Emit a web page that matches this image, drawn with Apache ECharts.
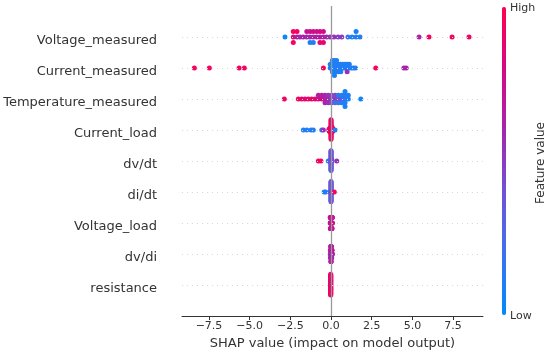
<!DOCTYPE html>
<html>
<head>
<meta charset="utf-8">
<script src="https://cdn.jsdelivr.net/npm/echarts@6/dist/echarts.min.js"></script>
<style>html,body{margin:0;padding:0;background:#fff}#chart{width:550px;height:355px}</style>
</head>
<body>
<div id="chart"></div>
<script>
// Features, top to bottom
const features = ['Voltage_measured','Current_measured','Temperature_measured','Current_load','dv/dt','di/dt','Voltage_load','dv/di','resistance'];
const xTicks = [-7.5, -5, -2.5, 0, 2.5, 5, 7.5];

// SHAP values and normalised feature values (0 = low, 1 = high) per feature
const voltage_measured_shap = [-2.83,-2.32,-2.32,-2.32,-2.09,-2.09,-1.91,-1.72,-1.49,-1.49,-1.29,-1.29,-1.29,-1.09,-1.09,-1.09,-0.88,-0.88,-0.68,-0.68,-0.68,-0.47,-0.47,-0.47,-0.26,-0.06,0.18,0.43,0.66,1.04,1.29,1.54,1.54,1.78,5.41,6.02,7.44,8.48];
const voltage_measured_value = [0.05,0.85,0.95,0.95,0.65,0.92,0.6,0.62,0.6,0.75,0.6,0.75,0.1,0.62,0.78,0.12,0.65,0.75,0.7,0.8,0.85,0.65,0.78,0.9,0.6,0.55,0.55,0.5,0.5,0.15,0.1,0.1,0.08,0.12,0.6,0.95,0.95,0.92];

const current_measured_shap = [-8.40,-7.48,-5.65,-5.33,-0.47,-0.05,-0.05,0.08,0.08,0.08,0.08,0.21,0.21,0.21,0.21,0.21,0.34,0.34,0.34,0.34,0.47,0.47,0.47,0.60,0.60,0.60,0.73,0.73,0.86,0.86,0.99,0.99,0.99,1.12,1.12,1.25,1.38,1.50,2.75,4.48,4.62];
const current_measured_value = [0.95,0.95,0.95,0.92,0.95,0.08,0.12,0.1,0.05,0.15,0.1,0.1,0.08,0.12,0.1,0.06,0.1,0.12,0.08,0.1,0.1,0.1,0.15,0.12,0.08,0.1,0.1,0.1,0.1,0.12,0.1,0.08,0.55,0.1,0.12,0.1,0.12,0.1,0.95,0.6,0.62];

const temperature_measured_shap = [-2.87,-2.01,-1.80,-1.60,-1.40,-1.19,-0.98,-0.78,-0.78,-0.57,-0.57,-0.37,-0.37,-0.37,-0.17,-0.17,-0.17,0.04,0.04,0.04,0.25,0.25,0.25,0.45,0.45,0.45,0.66,0.66,0.66,0.86,0.86,0.86,0.86,0.86,1.06,1.06,1.83];
const temperature_measured_value = [0.95,0.95,0.92,0.85,0.9,0.9,0.85,0.8,0.7,0.8,0.65,0.65,0.6,0.6,0.6,0.55,0.55,0.5,0.5,0.45,0.5,0.45,0.2,0.45,0.15,0.2,0.4,0.1,0.1,0.1,0.15,0.1,0.08,0.1,0.08,0.1,0.05];

const current_load_shap = [-1.70,-1.49,-1.23,-1.09,-0.57,-0.47,-0.12,-0.12,-0.12,-0.06,-0.06,-0.06,-0.06,-0.06,0,0,0,0,0,0,0,0,0,0,0,0,0,0,0,0,0,0,0,0,0.06,0.06,0.06,0.06,0.06,0.06,0.12,0.12,0.12,0.25];
const current_load_value = [0.08,0.1,0.12,0.1,0.15,0.55,0.9,0.92,0.88,0.92,0.9,0.95,0.9,0.93,0.95,0.93,0.95,0.9,0.95,0.92,0.95,0.9,0.95,0.93,0.95,0.9,0.95,0.92,0.95,0.93,0.95,0.9,0.95,0.92,0.92,0.9,0.95,0.9,0.88,0.93,0.9,0.95,0.9,0.1];

const dvdt_shap = [-0.78,-0.62,-0.17,-0.04,-0.04,-0.04,0,0,0,0,0,0,0,0,0,0,0,0,0,0,0,0,0,0,0,0,0,0,0,0,0,0,0.04,0.04,0.04,0.04,0.35];
const dvdt_value = [0.95,0.95,0.1,0.35,0.4,0.3,0.38,0.35,0.42,0.3,0.4,0.36,0.45,0.33,0.38,0.4,0.35,0.3,0.42,0.38,0.35,0.4,0.32,0.45,0.38,0.35,0.4,0.33,0.38,0.42,0.35,0.4,0.35,0.4,0.3,0.45,0.55];

const didt_shap = [-0.42,-0.33,-0.04,-0.04,0,0,0,0,0,0,0,0,0,0,0,0,0,0,0,0,0,0,0,0,0,0,0,0,0,0,0,0,0.04,0.04,0.04,0.2];
const didt_value = [0.1,0.08,0.35,0.4,0.38,0.35,0.42,0.3,0.4,0.36,0.45,0.33,0.38,0.4,0.35,0.3,0.42,0.38,0.35,0.4,0.32,0.45,0.38,0.35,0.4,0.33,0.38,0.42,0.35,0.4,0.38,0.36,0.4,0.35,0.45,0.95];

const voltage_load_shap = [-0.05,-0.05,-0.04,-0.04,-0.04,-0.03,-0.03,-0.03,-0.02,-0.02,-0.02,-0.01,-0.01,-0.01,0,0,0,0.01,0.01,0.01,0.02,0.02,0.02,0.03,0.03,0.03,0.04,0.04,0.04,0.05,0.05,0.05,0.06,0.06,0.06,0.07,0.07,0.08,0.08];
const voltage_load_value = [0.75,0.7,0.78,0.72,0.75,0.7,0.8,0.75,0.72,0.78,0.7,0.75,0.8,0.72,0.7,0.78,0.75,0.72,0.75,0.8,0.7,0.75,0.78,0.72,0.8,0.7,0.75,0.72,0.78,0.7,0.75,0.8,0.72,0.78,0.7,0.75,0.72,0.78,0.7];

const dvdi_shap = [-0.04,-0.04,-0.03,-0.03,-0.03,-0.02,-0.02,-0.02,-0.02,-0.01,-0.01,-0.01,-0.01,-0.01,0,0,0,0,0,0.01,0.01,0.01,0.01,0.01,0.02,0.02,0.02,0.02,0.03,0.03,0.03,0.04,0.04,0.04,0.05,0.05,0.06,0.06,0.07,0.08];
const dvdi_value = [0.6,0.7,0.55,0.75,0.6,0.5,0.7,0.6,0.72,0.55,0.75,0.6,0.5,0.72,0.6,0.55,0.7,0.75,0.6,0.55,0.65,0.72,0.5,0.7,0.6,0.75,0.55,0.7,0.6,0.5,0.72,0.55,0.7,0.6,0.65,0.72,0.55,0.7,0.6,0.65];

const resistance_shap = [-0.02,-0.02,-0.02,-0.02,-0.02,-0.02,-0.02,-0.02,-0.02,-0.02,-0.02,-0.02,-0.02,-0.02,-0.02,-0.02,-0.02,-0.02,-0.02,-0.02,-0.02,-0.02,-0.02,-0.02,-0.02,-0.02,-0.02,-0.02,-0.02,-0.02,-0.02,-0.02,-0.02,-0.02,-0.02,-0.02,-0.02,-0.02,-0.02,-0.02];
const resistance_value = [0.92,0.93,0.92,0.9,0.92,0.93,0.92,0.7,0.92,0.93,0.92,0.72,0.92,0.93,0.92,0.68,0.92,0.9,0.92,0.72,0.92,0.93,0.92,0.9,0.92,0.93,0.92,0.9,0.92,0.93,0.92,0.9,0.92,0.93,0.92,0.9,0.92,0.93,0.92,0.9];

const rows = [
  [voltage_measured_shap, voltage_measured_value],
  [current_measured_shap, current_measured_value],
  [temperature_measured_shap, temperature_measured_value],
  [current_load_shap, current_load_value],
  [dvdt_shap, dvdt_value],
  [didt_shap, didt_value],
  [voltage_load_shap, voltage_load_value],
  [dvdi_shap, dvdi_value],
  [resistance_shap, resistance_value]
];

// shap-style beeswarm vertical jitter
function beeswarm(vals) {
  const N = vals.length, nbins = 100, rowHeight = 0.4;
  const mn = Math.min(...vals), mx = Math.max(...vals);
  const quant = vals.map(v => Math.round(nbins * (v - mn) / (mx - mn + 1e-8)));
  const inds = vals.map((_, i) => i).sort((a, b) => (quant[a] - quant[b]) || (a - b));
  const ys = new Array(N).fill(0);
  let layer = 0, last = -1;
  for (const i of inds) {
    if (quant[i] !== last) layer = 0;
    ys[i] = Math.ceil(layer / 2) * ((layer % 2) * 2 - 1);
    layer++;
    last = quant[i];
  }
  const m = Math.max(...ys.map(y => y + 1));
  return ys.map(y => y * 0.9 * (rowHeight / m));
}

const nRows = features.length;
const points = [];
rows.forEach((r, k) => {
  const pos = nRows - 1 - k;
  const jit = beeswarm(r[0]);
  r[0].forEach((v, i) => points.push([v, pos + jit[i], r[1][i]]));
});

const FONT = 'DejaVu Sans';
const fmt = v => (v < 0 ? '\u2212' : '') + Math.abs(v).toFixed(1);
const gridLineStyle = {color: '#d8d8d8', width: 1, type: [1, 4]};

const chart = echarts.init(document.getElementById('chart'), null, {renderer: 'canvas'});
chart.setOption({
  animation: false,
  textStyle: {fontFamily: FONT},
  grid: {left: 182, right: 67, top: 6, bottom: 39},
  xAxis: {
    type: 'value', min: -9.16, max: 9.34,
    axisLine: {show: true, onZero: false, lineStyle: {color: '#333', width: 1}},
    axisTick: {show: true, customValues: xTicks, length: 4, lineStyle: {color: '#333'}},
    axisLabel: {customValues: xTicks, formatter: fmt, fontSize: 11, color: '#333', margin: 5, fontFamily: FONT},
    splitLine: {show: false},
    name: 'SHAP value (impact on model output)', nameLocation: 'middle', nameGap: 21,
    nameTextStyle: {fontSize: 13, color: '#333', fontFamily: FONT}
  },
  yAxis: {
    type: 'value', min: -1, max: 9, interval: 1,
    axisLine: {show: false}, axisTick: {show: false}, splitLine: {show: false},
    axisLabel: {
      fontSize: 13, color: '#333', margin: 25, fontFamily: FONT,
      formatter: v => (v >= 0 && v <= nRows - 1) ? '{a|' + features[nRows - 1 - v] + '}' : '',
      rich: {a: {fontSize: 13, color: '#333', fontFamily: FONT, padding: [8, 0, 0, 0]}}
    }
  },
  visualMap: {
    type: 'continuous', min: 0, max: 1, dimension: 2, seriesIndex: 2,
    inRange: {color: ['#008bfb', '#3d72ee', '#7052d8', '#a525ad', '#d40a84', '#ff0052']},
    left: 502, top: 7, itemWidth: 4, itemHeight: 308, padding: 0,
    text: null, calculable: false, hoverLink: false, showLabel: false
  },
  series: [
    {
      type: 'line', data: [], z: 1, silent: true, itemStyle: {color: '#d8d8d8'},
      markLine: {
        silent: true, symbol: ['none', 'none'], label: {show: false}, animation: false,
        lineStyle: gridLineStyle,
        data: features.map((_, i) => ({yAxis: i, lineStyle: gridLineStyle}))
      }
    },
    {
      type: 'line', data: [], z: 2, silent: true, itemStyle: {color: '#999'},
      markLine: {
        silent: true, symbol: ['none', 'none'], label: {show: false}, animation: false,
        lineStyle: {color: '#999', width: 1.3, type: 'solid'},
        data: [{xAxis: 0}]
      }
    },
    {
      type: 'scatter', data: points, symbolSize: 5, z: 3,
      itemStyle: {opacity: 1}
    }
  ],
  graphic: [
    {type: 'text', x: 510, y: 8.5, style: {text: 'High', font: '11px "DejaVu Sans"', fill: '#333', verticalAlign: 'middle'}},
    {type: 'text', x: 510, y: 316, style: {text: 'Low', font: '11px "DejaVu Sans"', fill: '#333', verticalAlign: 'middle'}},
    {type: 'text', x: 541, y: 163, rotation: Math.PI / 2, style: {text: 'Feature value', font: '12px "DejaVu Sans"', fill: '#333', align: 'center', verticalAlign: 'middle'}}
  ]
});
</script>
</body>
</html>
